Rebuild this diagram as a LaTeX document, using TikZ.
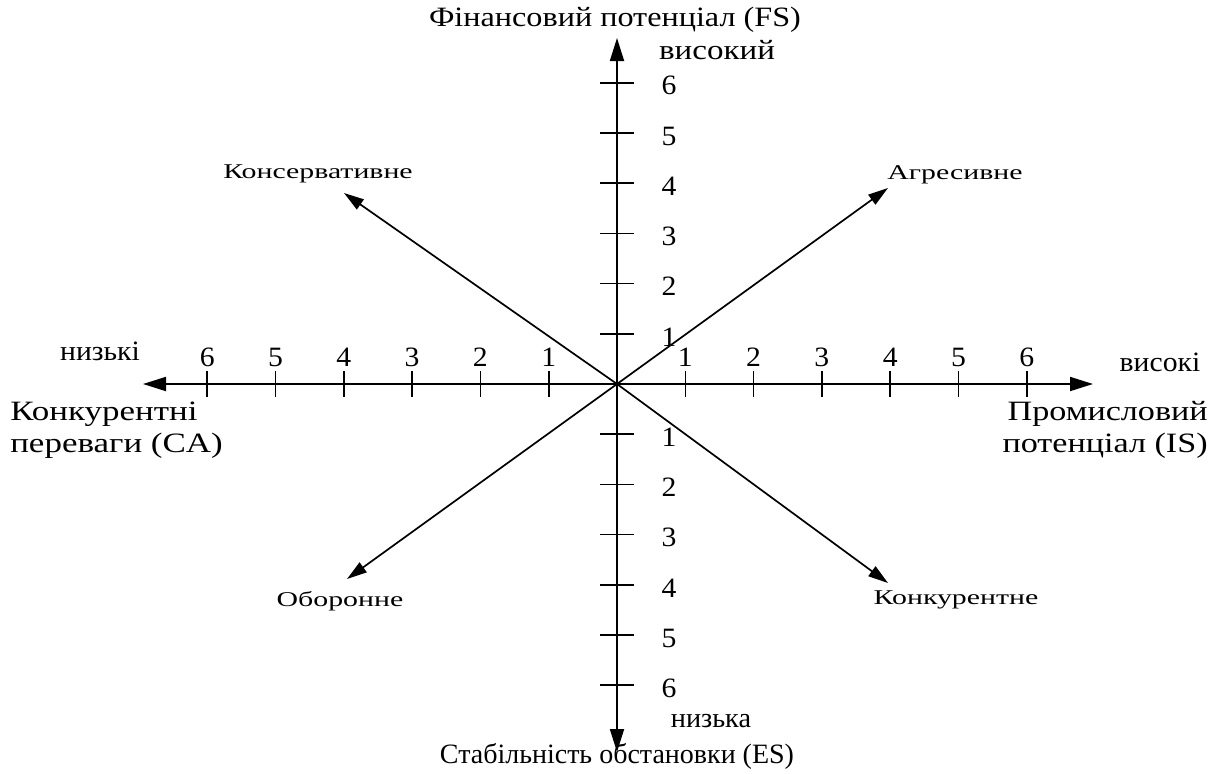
\documentclass[tikz,border=0pt]{standalone}
\usepackage{fontspec}
\setmainfont{Liberation Serif}
\usetikzlibrary{arrows.meta,calc}
\begin{document}
\begin{tikzpicture}[x=1pt,y=-1pt,
  axis/.style={line width=1.8pt,-{Triangle[length=23pt,width=14pt]}},
  diag/.style={line width=1.7pt,-{Triangle[length=20pt,width=12pt]}},
  tick/.style={line width=1.6pt},
  big/.style={font=\fontsize{28}{32}\selectfont,inner sep=0pt},
  small/.style={font=\fontsize{21}{24}\selectfont,inner sep=0pt,xscale=1.42}]
\useasboundingbox (0,0) rectangle (1216,774);
\coordinate (O) at (617,384);
\coordinate (R) at (1093,384);
\coordinate (L) at (143,384);
\coordinate (T) at (617,38);
\coordinate (B) at (617,752);
\coordinate (NE) at (888,188);
\coordinate (NW) at (344,193);
\coordinate (SW) at (347,579);
\coordinate (SE) at (888,583);
% axes
\draw[axis] (O) -- (R);
\draw[axis] (O) -- (L);
\draw[axis] (O) -- (T);
\draw[axis] (O) -- (B);
% diagonals
\draw[diag] (O) -- (NE);
\draw[diag] (O) -- (NW);
\draw[diag] (O) -- (SW);
\draw[diag] (O) -- (SE);
% ticks
\foreach \k in {1,...,6} {
  \draw[tick] ($(O)+(68.3*\k,-13)$) -- ++(0,26);
  \draw[tick] ($(O)+(-68.3*\k,-13)$) -- ++(0,26);
  \draw[tick] ($(O)+(-17,-50.2*\k)$) -- ++(34,0);
  \draw[tick] ($(O)+(-17,50.2*\k)$) -- ++(34,0);
  \node[big,xscale=1.06] (xr\k) at ($(O)+(68.3*\k,-27)$) {\k};
  \node[big,xscale=1.06] (xl\k) at ($(O)+(-68.3*\k,-27)$) {\k};
  \node[big,xscale=1.06] (yu\k) at ($(O)+(52,-50.2*\k+3)$) {\k};
  \node[big,xscale=1.06] (yd\k) at ($(O)+(52,50.2*\k+3)$) {\k};
}
% axis labels
\node[big,xscale=1.15] (fs) at (615,20) {Фінансовий потенціал (FS)};
\node[big,xscale=1.18] (hi) at (717,50) {високий};
\node[big,xscale=1.0] (es) at (617,756) {Стабільність обстановки (ES)};
\node[big,xscale=1.01] (lo) at (711,721) {низька};
\node[big,xscale=1.06] (lowl) at (100,351) {низькі};
\node[big,xscale=1.06] (hir) at (1160,362) {високі};
\node[big,xscale=1.25,align=left,anchor=west] (ca) at (10,430) {Конкурентні\\переваги (CA)};
\node[big,xscale=1.22,align=right,anchor=east] (is) at (1208,430) {Промисловий\\потенціал (IS)};
% strategy labels
\node[small] (kons) at (318,174) {Консервативне};
\node[small] (agr) at (955,175) {Агресивне};
\node[small] (obor) at (340,601) {Оборонне};
\node[small] (konk) at (956,600) {Конкурентне};
\end{tikzpicture}
\end{document}
